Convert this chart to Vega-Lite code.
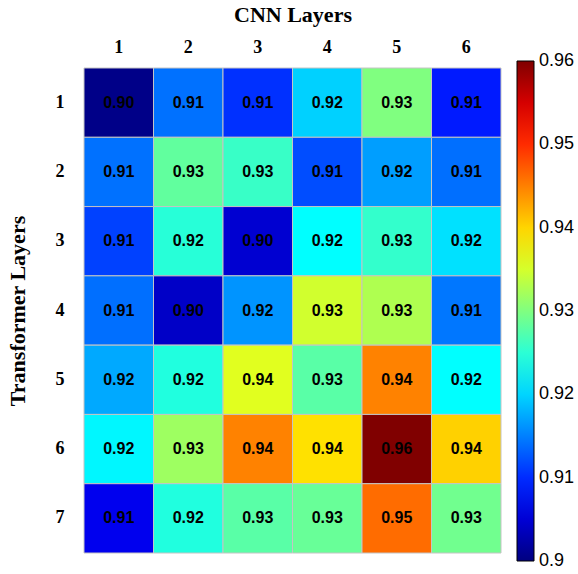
{
  "$schema": "https://vega.github.io/schema/vega-lite/v6.json",
  "width": 417,
  "height": 485,
  "autosize": "none",
  "padding": {"left": 84, "top": 68, "right": 77, "bottom": 21},
  "background": "white",
  "config": {"view": {"stroke": null}},
  "data": {"values": [
    {"t":1,"c":1,"v":0.9005},{"t":1,"c":2,"v":0.9141},{"t":1,"c":3,"v":0.9103},{"t":1,"c":4,"v":0.9198},{"t":1,"c":5,"v":0.9300},{"t":1,"c":6,"v":0.9090},
    {"t":2,"c":1,"v":0.9141},{"t":2,"c":2,"v":0.9282},{"t":2,"c":3,"v":0.9258},{"t":2,"c":4,"v":0.9120},{"t":2,"c":5,"v":0.9168},{"t":2,"c":6,"v":0.9140},
    {"t":3,"c":1,"v":0.9113},{"t":3,"c":2,"v":0.9248},{"t":3,"c":3,"v":0.9048},{"t":3,"c":4,"v":0.9225},{"t":3,"c":5,"v":0.9255},{"t":3,"c":6,"v":0.9207},
    {"t":4,"c":1,"v":0.9140},{"t":4,"c":2,"v":0.9042},{"t":4,"c":3,"v":0.9162},{"t":4,"c":4,"v":0.9348},{"t":4,"c":5,"v":0.9328},{"t":4,"c":6,"v":0.9145},
    {"t":5,"c":1,"v":0.9174},{"t":5,"c":2,"v":0.9244},{"t":5,"c":3,"v":0.9357},{"t":5,"c":4,"v":0.9277},{"t":5,"c":5,"v":0.9449},{"t":5,"c":6,"v":0.9225},
    {"t":6,"c":1,"v":0.9220},{"t":6,"c":2,"v":0.9318},{"t":6,"c":3,"v":0.9449},{"t":6,"c":4,"v":0.9393},{"t":6,"c":5,"v":0.9600},{"t":6,"c":6,"v":0.9402},
    {"t":7,"c":1,"v":0.9065},{"t":7,"c":2,"v":0.9244},{"t":7,"c":3,"v":0.9277},{"t":7,"c":4,"v":0.9286},{"t":7,"c":5,"v":0.9462},{"t":7,"c":6,"v":0.9291}
  ]},
  "encoding": {
    "x": {"field": "c", "type": "ordinal", "scale": {"paddingInner": 0, "paddingOuter": 0},
      "axis": {"orient": "top", "title": "CNN Layers", "labelAngle": 0, "ticks": false, "domain": false,
        "labelFont": "Liberation Serif", "labelFontWeight": "bold", "labelFontSize": 18, "labelColor": "black", "labelPadding": 12,
        "titleFont": "Liberation Serif", "titleFontWeight": "bold", "titleFontSize": 22, "titleColor": "black", "titlePadding": 12}},
    "y": {"field": "t", "type": "ordinal", "scale": {"paddingInner": 0, "paddingOuter": 0},
      "axis": {"title": "Transformer Layers", "ticks": false, "domain": false,
        "labelFont": "Liberation Serif", "labelFontWeight": "bold", "labelFontSize": 18, "labelColor": "black", "labelPadding": 20,
        "titleFont": "Liberation Serif", "titleFontWeight": "bold", "titleFontSize": 22, "titleColor": "black", "titlePadding": 26}}
  },
  "layer": [
    {
      "mark": {"type": "rect", "stroke": "#c4c4c4", "strokeWidth": 1},
      "encoding": {
        "color": {"field": "v", "type": "quantitative",
          "scale": {"domain": [0.9, 0.9075, 0.915, 0.9225, 0.93, 0.9375, 0.945, 0.9525, 0.96],
            "range": ["#000080", "#0000ff", "#0080ff", "#00ffff", "#80ff80", "#ffff00", "#ff8000", "#ff0000", "#800000"],
            "interpolate": "rgb", "clamp": true},
          "legend": {"title": null, "orient": "none", "legendX": 433, "legendY": -7, "direction": "vertical",
            "gradientLength": 500, "gradientThickness": 17, "gradientStrokeColor": "black", "gradientStrokeWidth": 1,
            "values": [0.9, 0.91, 0.92, 0.93, 0.94, 0.95, 0.96], "format": ".2~f",
            "labelFont": "Liberation Sans", "labelFontSize": 18, "labelColor": "black", "labelOffset": 5,
            "encode": {"labels": {"update": {"baseline": {"value": "middle"}}}}}}
      }
    },
    {
      "mark": {"type": "text", "font": "Liberation Sans", "fontWeight": "bold", "fontSize": 16, "color": "black"},
      "encoding": {"text": {"field": "v", "type": "quantitative", "format": ".2f"}}
    }
  ]
}
